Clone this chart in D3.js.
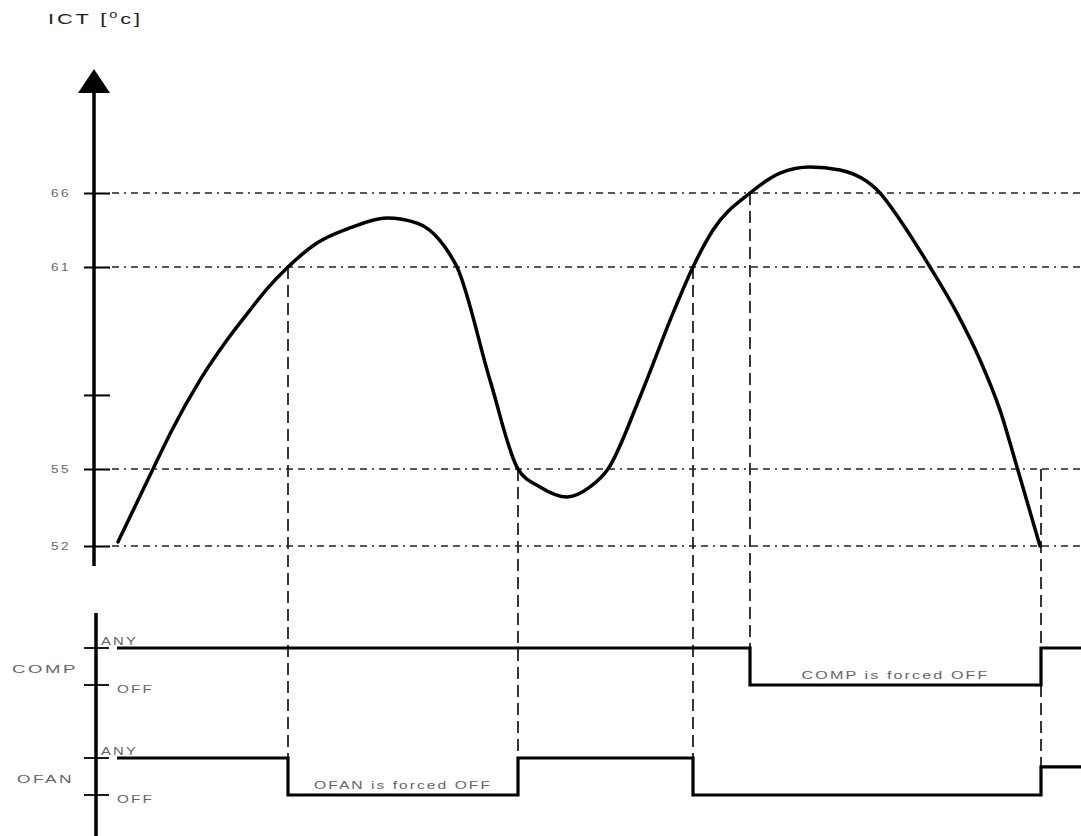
<!DOCTYPE html>
<html>
<head>
<meta charset="utf-8">
<script src="https://cdn.jsdelivr.net/npm/d3@7"></script>
<style>
  html, body { margin: 0; padding: 0; background: #fff; }
  svg { display: block; }
  text { font-family: "Liberation Sans", Arial, sans-serif; }
</style>
</head>
<body>
<script>
// ---------- data ----------
// time in arbitrary units, ICT temperature in °C (schematic scale)
const curveTime = [23, 58, 77, 105, 132, 155, 172, 193, 222, 255, 292, 322, 352, 362, 395, 423, 445, 472, 495, 513, 545, 578, 598, 618, 655, 685, 715, 745, 785, 805, 835, 862, 885, 905, 922, 945];
const curveTemp = [52.16, 55.0, 56.16, 57.64, 58.83, 59.72, 60.35, 61.0, 62.62, 63.64, 64.31, 63.97, 62.15, 61.0, 57.64, 55.0, 54.3, 53.91, 54.3, 55.0, 57.14, 59.63, 61.0, 63.5, 66.0, 67.35, 67.76, 67.55, 66.0, 64.18, 61.0, 59.63, 58.24, 56.75, 55.06, 52.0];

const tempTicks = [52, 55, 57.2, 61, 66];
const tempTickLabels = ["52", "55", "", "61", "66"];
const gridTemps = [52, 55, 61, 66];

// events: time where curve crosses a threshold, and the threshold temperature
const eventTime = [193, 423, 598, 655, 946];
const eventTemp = [61, 55, 61, 66, 55];

// digital signals: 1 = ANY, 0 = OFF (step after)
const compTime = [22, 655, 946, 990];
const compLevel = [1, 0, 1, 1];
const ofanTime = [22, 193, 423, 598, 946, 990];
const ofanLevel = [1, 0, 1, 0, 0.76, 0.76];

const signalNames = ["COMP", "OFAN"];
const levelLabels = ["ANY", "OFF"];
const notes = [
  { text: "COMP is forced OFF", signal: "COMP", from: 655, to: 946 },
  { text: "OFAN is forced OFF", signal: "OFAN", from: 193, to: 423 }
];

// ---------- layout ----------
const W = 1081, H = 836;
const svg = d3.select("body").append("svg").attr("width", W).attr("height", H);

const x = d3.scaleLinear().domain([0, 986]).range([95, 1081]);
// schematic (piecewise) temperature scale
const y = d3.scaleLinear().domain([52, 55, 61, 66]).range([546, 469, 267, 193]);

const sigY = {
  COMP: d3.scaleLinear().domain([0, 1]).range([685, 648]),
  OFAN: d3.scaleLinear().domain([0, 1]).range([795, 758])
};

const gridColor = "#222";
const labelColor = "#666";

// stretched label helper (wide, spaced glyphs like the reference)
function label(txt, x0, yb, len, size, anchor) {
  const t = svg.append("text").attr("y", yb).attr("font-size", size)
    .attr("fill", labelColor).attr("letter-spacing", 1.5).attr("textLength", len)
    .attr("lengthAdjust", "spacingAndGlyphs").text(txt);
  if (anchor === "middle") t.attr("x", x0 - len / 2);
  else t.attr("x", x0);
  return t;
}

// horizontal dash-dot grid lines
svg.append("g").selectAll("line").data(gridTemps).join("line")
  .attr("x1", 112).attr("x2", W)
  .attr("y1", d => y(d)).attr("y2", d => y(d))
  .attr("stroke", gridColor).attr("stroke-width", 1.6)
  .attr("stroke-dasharray", "7,5,2,5,7,5");

// vertical dashed event lines
const eventBottom = [758, 758, 758, 648, 767];
svg.append("g").selectAll("line").data(eventTime).join("line")
  .attr("x1", d => x(d)).attr("x2", d => x(d))
  .attr("y1", (d, i) => y(eventTemp[i]))
  .attr("y2", (d, i) => eventBottom[i])
  .attr("stroke", gridColor).attr("stroke-width", 1.8)
  .attr("stroke-dasharray", "12,6");

// y axis (ICT)
const axisX = 94;
const yAxis = d3.axisLeft(y).tickValues(tempTicks)
  .tickFormat((d, i) => tempTickLabels[i]).tickSize(0).tickPadding(0);
const ga = svg.append("g").attr("transform", `translate(${axisX},0)`).call(yAxis);
ga.select(".domain").remove();
ga.selectAll(".tick line").attr("x1", -10).attr("x2", 16)
  .attr("stroke", "#000").attr("stroke-width", 2);
ga.selectAll(".tick text")
  .attr("text-anchor", "start").attr("x", -43).attr("dy", "0.36em")
  .attr("fill", labelColor).attr("font-size", 11).attr("letter-spacing", 2)
  .attr("textLength", d => tempTickLabels[tempTicks.indexOf(d)] ? 20 : null)
  .attr("lengthAdjust", "spacingAndGlyphs")
  .attr("font-family", "'Liberation Sans', Arial, sans-serif");

svg.append("line").attr("x1", axisX).attr("x2", axisX).attr("y1", 88).attr("y2", 566)
  .attr("stroke", "#000").attr("stroke-width", 3.5);
svg.append("path").attr("d", `M${axisX},69 L${axisX + 16},93 L${axisX - 16},93 Z`).attr("fill", "#000");

// axis title
const title = svg.append("text").attr("x", 48).attr("y", 24)
  .attr("font-size", 15).attr("fill", "#222").attr("letter-spacing", 2)
  .attr("textLength", 95).attr("lengthAdjust", "spacingAndGlyphs");
title.append("tspan").text("ICT [");
title.append("tspan").text("o").attr("font-size", 10).attr("dy", -6);
title.append("tspan").text("c]").attr("dy", 6);

// temperature curve
const line = d3.line().x(d => x(d[0])).y(d => y(d[1])).curve(d3.curveMonotoneX);
svg.append("path").datum(curveTime.map((t, i) => [t, curveTemp[i]]))
  .attr("d", line).attr("fill", "none").attr("stroke", "#000")
  .attr("stroke-width", 3.5).attr("stroke-linejoin", "round").attr("stroke-linecap", "round");

// signal axis
const sigAxisX = 96;
svg.append("line").attr("x1", sigAxisX).attr("x2", sigAxisX).attr("y1", 613).attr("y2", H)
  .attr("stroke", "#000").attr("stroke-width", 3.5);

const nameX = { COMP: [12, 66], OFAN: [17, 57] };
signalNames.forEach(name => {
  const s = sigY[name];
  [1, 0].forEach((lv, i) => {
    svg.append("line").attr("x1", 84).attr("x2", 109)
      .attr("y1", s(lv)).attr("y2", s(lv))
      .attr("stroke", "#000").attr("stroke-width", 1.8);
    if (lv === 1) label(levelLabels[i], 101, s(lv) - 3, 37, 10.5);
    else label(levelLabels[i], 117, s(lv) + 8, 37, 10.5);
  });
  label(name, nameX[name][0], (s(1) + s(0)) / 2 + 6, nameX[name][1], 10.5);
});

// signal step lines
const stepLine = (scale) => d3.line().x(d => x(d[0])).y(d => scale(d[1])).curve(d3.curveStepAfter);
svg.append("path").datum(compTime.map((t, i) => [t, compLevel[i]]))
  .attr("d", stepLine(sigY.COMP)).attr("fill", "none").attr("stroke", "#000")
  .attr("stroke-width", 3.2);
svg.append("path").datum(ofanTime.map((t, i) => [t, ofanLevel[i]]))
  .attr("d", stepLine(sigY.OFAN)).attr("fill", "none").attr("stroke", "#000")
  .attr("stroke-width", 3.2);

// notes
notes.forEach(n => {
  const cx = (x(n.from) + x(n.to)) / 2;
  label(n.text, cx, sigY[n.signal](0) - 6, n.signal === "COMP" ? 188 : 178, 11.5, "middle");
});
</script>
</body>
</html>
